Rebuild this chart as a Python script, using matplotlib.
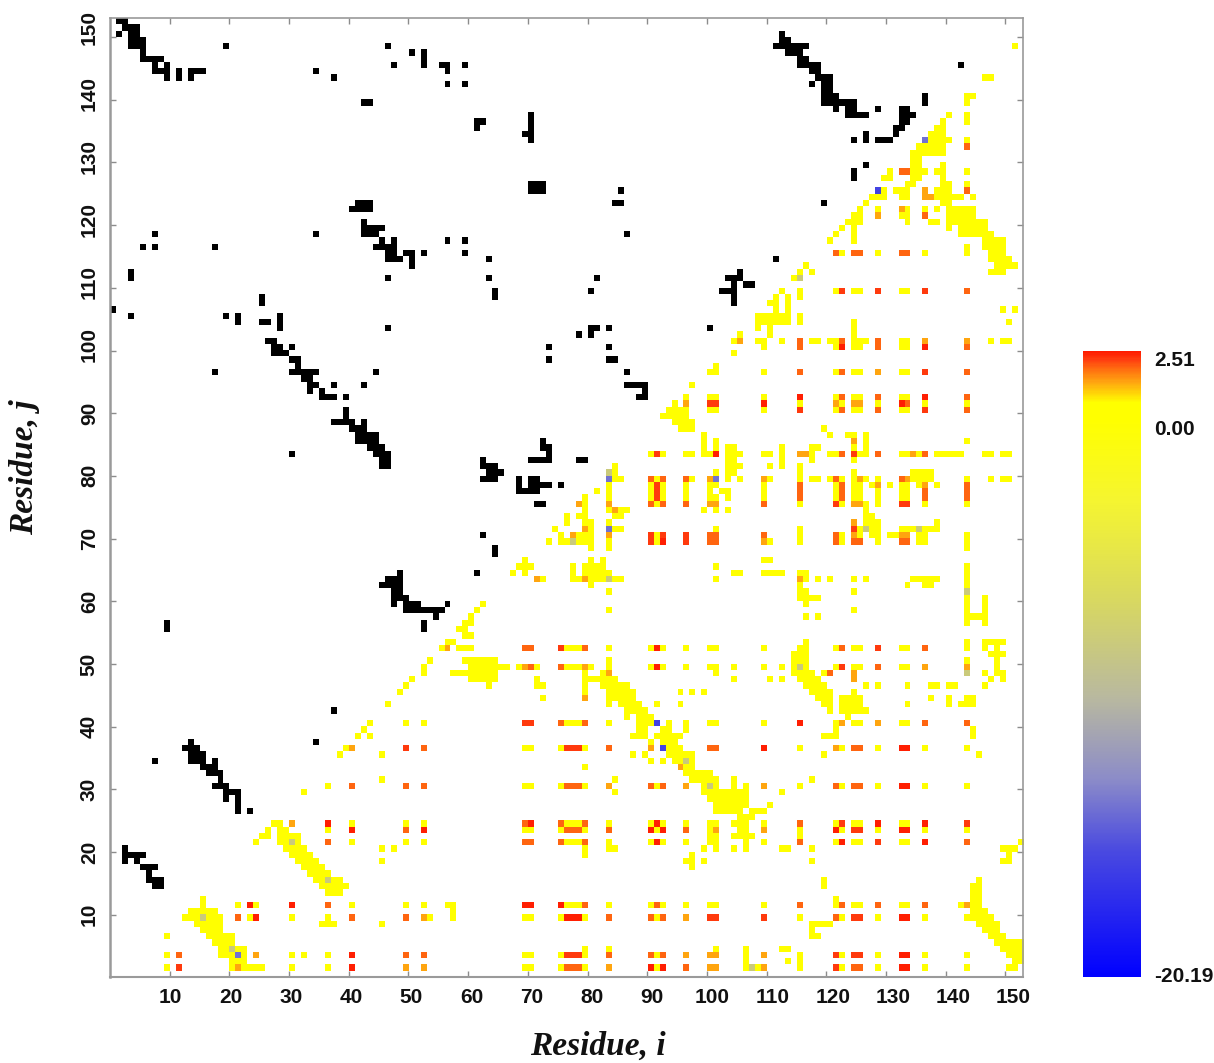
import re
import numpy as np
import matplotlib
matplotlib.use("Agg")
import matplotlib.pyplot as plt
from matplotlib.colors import LinearSegmentedColormap, Normalize, ListedColormap
from matplotlib.cm import ScalarMappable
from matplotlib.transforms import ScaledTranslation

N_RES = 153
VMIN, VMAX = -20.19, 2.51
x_ticks = list(range(10, 151, 10))
y_ticks = list(range(10, 151, 10))
cbar_ticks = [VMIN, 0.0, VMAX]
cbar_labels = ["-20.19", "0.00", "2.51"]

# energy level per letter suffix: none=yellow
level_values = {"": 0.2, "a": 1.4, "o": 1.9, "r": 2.2, "R": 2.45,
                "b": -16.0, "p": -14.0, "g": -8.0}

# Native contacts, row j -> residues i
contacts_upper = {
    153: "2-3", 152: "3-5", 151: "2 4-5 113", 150: "4-6 113-114", 149: "4-6 20 47 112-117",
    148: "6 51 53 114-116", 147: "6-9 53 116-117", 146: "8 10 48 53 56-57 60 116-119 143",
    145: "8-10 12 14-16 35 57 118-119", 144: "10 12 14 38 119-121", 143: "57 60 118 120-121",
    142: "120-121", 141: "120-122 137", 140: "43-44 120-125 137", 139: "122 124-125 129 133-134",
    138: "71 124-127 133-135", 137: "62-63 71 133-134", 136: "62 71 132-133", 135: "70-71 127 132",
    134: "71 125 127 129-131", 130: "127", 129: "125", 128: "125", 127: "71-73", 126: "71-73 86",
    124: "42-44 85-86 120", 123: "41-44", 121: "43", 120: "43-46", 119: "8 35 43-45 87",
    118: "46 48 57 60", 117: "6 8 18 45-48", 116: "47-48 50-51 53 60", 115: "47-49 51 64 112",
    114: "51", 113: "4 106", 112: "4 47 64 82 104-106", 111: "105 107-108", 110: "65 81 103-105",
    109: "26 65 105", 108: "26 105", 107: "1", 106: "4 20 22 29", 105: "22 26-27 29",
    104: "29 47 81-82 84 101",
}
contacts_lower = {
    103: "79 81", 102: "27-28", 101: "28-29 31 74 84", 100: "28-30", 99: "31-32 74 84-85", 98: "32",
    97: "18 31-35 45 87", 96: "33-34", 95: "34-35 38 43 87-90", 94: "34 36 90", 93: "36-38 40 89-90",
    91: "40", 90: "40", 89: "38-41 43", 88: "41-43", 87: "42-45", 86: "42-45 73", 85: "44-46 73-74",
    84: "31 45-47 74", 83: "46-47 63 71-74 79-80", 82: "46-47 63-65", 81: "64-66", 80: "63-65 69 71-72",
    79: "69 71-74 76", 78: "69-72", 76: "72-73", 71: "63", 69: "65", 68: "65", 65: "49 62", 64: "47-49",
    63: "46-49", 62: "48-49", 61: "48-50", 60: "48 50-52 57", 59: "50-56", 58: "55", 57: "10 53",
    56: "10 53", 43: "38", 38: "14 35", 37: "13-15", 36: "14-16", 35: "8 14-16 18", 34: "16-18",
    33: "17-19", 32: "19", 31: "18-20", 30: "20-22", 29: "20 22", 28: "22", 27: "22 24", 21: "3",
    20: "3-6", 19: "3 5", 18: "6-8", 17: "7", 16: "7-9", 15: "8-9",
}

# Interaction energies, row j -> residues i with level suffix
energy_high = {
    149: "152", 144: "147-148", 141: "144-145", 140: "144", 138: "141 144", 137: "140 144",
    136: "139-140", 135: "138-140", 134: "137p 138-141 144", 133: "136-140 144o", 132: "135-140",
    131: "135-136", 130: "135-136 140", 129: "131 133o 134o 135-136 137 139-140 144",
    128: "130-131 135-136 140", 127: "134-135 140-141 144", 126: "129b 130 132-134 137a 139-141 144o",
    125: "128-130 133-134 137a 138a 139-143 145", 124: "127 140-141",
    123: "126 129 133a 134 137 139 141-145", 122: "125-126 129a 133 134 137o 141-145",
    121: "124-126 134 138-139 141-147", 120: "123 125 141 143-147", 119: "122 125 143-148",
    118: "121 125 147-150", 117: "144 147-150",
    116: "122o 123 125o 126o 129 133o 134o 137 144 148-150", 115: "148-151", 114: "117 149-152",
    113: "116 118 148-150", 112: "115 116g",
    110: "113 116 122 123r 125-126 129r 133-134 137r 144o", 109: "112 114 116", 108: "111-112 114",
    107: "112 114 150 152", 106: "109-114 116", 105: "109-114 116 125 151", 104: "109 111 125",
    103: "106 111 125",
}
energy_mid = {
    102: "105 106a 109-110 113 116o 118-119 121-122 123o 125-127 129o 133-134 137a 144a 148 150-151",
    101: "110 116o 122 123R 125-126 129o 133-134 137R 144o", 100: "105", 98: "102",
    97: "101-102 110 116o 122 123o 125-126 129a 133-134 137r 144o", 95: "98",
    93: "97 101-102 110 116R 122 123o 125-126 129o 133-134 137R 144o",
    92: "95 97a 101r 102r 110R 116 122a 123 125a 126a 129 133R 134o 137 144",
    91: "94-97 101-102 110 116r 122 123o 125-126 129o 133-134 137r 144o", 90: "93-97", 89: "95-98",
    88: "96-98 120", 87: "100 121 124-125 127", 86: "100 102 125a 127 144",
    85: "100 102 104-105 113 118-119 125 127",
    84: "91 92r 93 97-98 100-101 102R 104-106 110-111 113 116a 117a 118 121-122 123o 125r 126-127 129o 133-134 135a 136 137o 139-143 147-148 150-151",
    83: "104-105 113 118 125", 82: "85 104-106 111 113 116", 81: "84g 85 102 104-105 116 125 135-138",
    80: "84p 85-86 91o 92 93o 97o 98 101a 102p 104 106 110a 111 116 118-119 121 122o 123 125 126a 127 129 133o 134a 135-138 144 148 150-151",
    79: "84 91 92r 93 97 101-102 110 116o 122 123o 125-126 128 129a 131 133-134 136 137a 139 144o",
    78: "82 84 91 92r 93 97 101 103-104 110 116o 122 123o 125-126 129 133-134 137o 144o",
    77: "80 84 91 92r 93 97 101-102 104 110 116o 122 123o 125-126 129 133-134 137o 144o",
    76: "79a 80 84a 91o 92 93o 97o 101a 102a 110o 116 122r 123 125a 126a 127 129 133r 134r 137 144",
    75: "80 84 85a 86-87 100 102 104 127", 74: "77 79-80 85-86 127-128", 73: "77 80-81 84 125a 127-129 139",
    72: "75 80a 81 84p 85-86 102 116 125r 126 127g 128-129 133-135 136g 137-139",
    71: "76 78a 79-81 84a 91r 92 93r 97r 101o 102o 110o 116 122o 123 125a 126 128-129 131-132 133a 134a 136-137 144",
    70: "74 76-77 78g 79-81 84 91r 92 93R 97r 101o 102o 110a 111 116 122o 123 125o 126o 129 133o 134o 136-137 144",
    69: "81 84 144", 67: "70 81 83 110-111", 66: "69-71 78 80-83 102 144",
    65: "68 70 78 80-84 105-106 110-113 116-117 144",
    64: "72a 73 78-79 80a 81-83 84g 85-86 102 116a 117 119 121 125 127 135-139 144",
    63: "81 116 134 137-138 144", 62: "84 116-117 125 144g", 61: "116-119 144 147", 60: "63 117 144 147",
    59: "62 84 125 144 147", 58: "61 117 119 144-147", 57: "60-61 144 147", 56: "59-60", 55: "60-61",
    54: "57-58 117 144 147-150",
    53: "56 57a 59-61 70o 71o 76r 77-79 80o 84 91 92R 93 97 101-102 110 116-117 122 123o 125-126 129r 133-134 137o 144 147 149",
}
energy_low = {
    52: "115-117 148-150", 51: "54 60-65 84 115-117 144 149",
    50: "53 61-67 69 70a 71o 72 76o 77-79 80a 81 84 91 92R 93 97 101-102 105 110 113 115 116g 117 122 123r 125-126 129o 133-134 137a 144a 149",
    49: "53 58-65 80 83 84a 102 115-118 120 121o 125a 144g 147 149-150",
    48: "51 61-65 72 80-85 105 111 113 116-119 125a 148 150",
    47: "50 64 72-73 80 83-87 117-120 127 129 134 138-139 141-142 147",
    46: "49 80 84-88 96 98 100 118-121 125", 45: "73 80a 84-88 119-121 123-126 138 141 144-145",
    44: "47 84 86-89 92 96 120-121 123-126 134 141 143-145", 43: "87-90 121 123-127", 42: "87 89-91 124",
    41: "44 50 53 70r 71r 76o 77-79 80o 84 89-91 92b 94 97 101-102 110 116R 122 123a 125-126 129a 133-134 137o 144o",
    40: "43 89-90 93-94 97 122 145", 39: "42 44 88-90 92-96 120-122 145", 38: "91 93-95",
    37: "40 41a 50r 53o 70-71 76 77r 78r 79r 80 84o 91a 93b 94-96 101o 102o 110R 116 122a 123 125o 126o 129 133R 134R 137 144",
    36: "39 46 88 90 94-98 120 146", 35: "91 93 95-96 97g 98", 34: "80 96a 97-98", 33: "97-101",
    32: "46 85 98-102 105 118",
    31: "37 41o 50o 53o 70-71 76 77o 78o 79o 80 84a 91o 92 93o 97a 100 101g 102 105 107 110a 116 122o 123 125o 126o 129 133R 134R 137 144",
    30: "33 85 100-107 113", 29: "101-107", 28: "102-107 111", 27: "102-106 108-110", 26: "106-108",
    25: "28-29 31a 37R 41 50 53 70o 71R 76o 77-79 80o 84 91 92R 93 97 101-102 105-107 110 116o 122 123r 125-126 129R 133-134 137R 144r",
    24: "27 29-30 37 41R 50o 53R 70-71 76 77o 78o 79o 80 84o 91R 92 93R 97o 101 102a 106-107 110a 116 122R 123 125r 126r 129 133R 134R 137 144",
    23: "26-27 29-32 101-102 105-108 116",
    22: "25 29-30 31g 32 37o 41 50 53 70o 71o 76o 77-79 80o 84 91 92R 93 97 101-102 107 110 116o 122 123R 125-126 129r 133-134 137R 144o 153",
    21: "30-33 46 48 80 84-85 100 102 105 107 113-114 118 150-152", 20: "31-34 80 98 151",
    19: "32-35 46 97-98 100 118 150-151", 18: "33-36 98", 17: "34-37", 16: "35-36 37g 38-39 120 146",
    15: "36-40 120 145-146", 14: "37-39 145-146", 13: "16 122 145-146",
    12: "16 22 24R 25 31R 37o 41 50 53 57-58 70R 71R 76R 77-79 80o 84 91 92o 93 97 101-102 110 116o 122 123o 125-126 129o 133-134 137o 143 144a 145-146",
    11: "14-18 58 145-147",
    10: "13-15 16g 17-19 22o 24 25R 31 37 41o 50o 53a 54 58 70-71 76 77R 78R 79R 80 84o 91o 92 93o 97a 101r 102r 110r 116 122o 123 125r 126r 129 133R 134R 137 144-148",
    9: "15-19 36-38 46 118-121 146-149", 8: "16-19 118 147-149", 7: "10 17-21 118-119 148-150",
    6: "18-21 149-153", 5: "19-20 21g 22-23 80 84 102 107 113-114 150-153",
    4: "10 12o 19-21 22p 23 25a 31 33 37 41R 50o 53o 70-71 76 77r 78r 79r 80 84o 91o 92 93o 97a 101a 102a 107 110a 116 122r 123 125r 126r 129 133R 134R 137 144 151-153",
    3: "21-23 107 114 116 152-153",
    2: "10 12r 21 22a 23-26 31 37 41R 50a 53a 70-71 76 77o 78o 79o 80 84a 91R 92 93R 97o 101a 102a 107 108g 109 110a 116 122r 123 125o 126o 129 133R 134R 137 144 151-152",
}

TOKEN = re.compile(r"(\d+)(?:-(\d+))?([a-zA-Z]?)")


def fill(grid, rows, value_of):
    for j, spec in rows.items():
        for a, b, lev in TOKEN.findall(spec):
            for i in range(int(a), int(b or a) + 1):
                grid[j - 1, i - 1] = value_of(lev)


energy = np.full((N_RES, N_RES), np.nan)
for part in (energy_high, energy_mid, energy_low):
    fill(energy, part, lambda lev: level_values[lev])
native = np.full((N_RES, N_RES), np.nan)
for part in (contacts_upper, contacts_lower):
    fill(native, part, lambda lev: 1.0)


def pos(v):
    return (v - VMIN) / (VMAX - VMIN)


cmap = LinearSegmentedColormap.from_list("energy", [
    (pos(-20.19), "#0000ff"), (pos(-15.6), "#4a4ae0"), (pos(-13.0), "#8c8cc8"),
    (pos(-10.1), "#b8b8a0"), (pos(-6.5), "#d8d860"), (pos(-2.9), "#f5f530"),
    (pos(0.0), "#ffff00"), (pos(0.65), "#ffff00"), (pos(1.4), "#ffa510"),
    (pos(1.9), "#ff6a10"), (pos(2.2), "#ff4010"), (pos(2.51), "#ff1a00")], N=512)
norm = Normalize(VMIN, VMAX)

W, H = 1214, 1063
fig = plt.figure(figsize=(W / 100, H / 100), dpi=100)
ax = fig.add_axes([110 / W, 1 - 977.3 / H, 913.3 / W, 959 / H])
extent = [0, N_RES, 0, N_RES]
ax.imshow(energy, origin="lower", extent=extent, cmap=cmap, norm=norm,
          interpolation="nearest", aspect="auto")
ax.imshow(native, origin="lower", extent=extent, cmap=ListedColormap(["black"]),
          interpolation="nearest", aspect="auto")
ax.set_xlim(0, N_RES)
ax.set_ylim(0, N_RES)

label_font = dict(family="Liberation Sans", fontweight="bold", fontsize=15, color="#111111")
ax.set_xticks(x_ticks)
ax.set_yticks(y_ticks)
ax.set_xticklabels([str(v) for v in x_ticks], **label_font)
ax.set_yticklabels([str(v) for v in y_ticks], rotation=90, va="center", **label_font)
ax.tick_params(axis="both", which="major", direction="in", length=4, width=1, color="#8c8c8c",
               top=True, right=True)
ax.tick_params(axis="x", pad=8)
ax.tick_params(axis="y", pad=8)
for s in ax.spines.values():
    s.set_color("#9a9a9a")
    s.set_linewidth(1.2)
ax.spines["left"].set_linewidth(1.8)
ax.spines["bottom"].set_linewidth(1.5)

for v, lab in zip(x_ticks, ax.get_xticklabels()):
    dx = (1 + (v - 10) * 0.05) / 100
    lab.set_transform(lab.get_transform() + ScaledTranslation(dx, 0, fig.dpi_scale_trans))
for v, lab in zip(y_ticks, ax.get_yticklabels()):
    dy = (10 if v == 150 else 6 if v >= 100 else 0) / 100
    lab.set_transform(lab.get_transform() + ScaledTranslation(0, dy, fig.dpi_scale_trans))

serif = dict(family="Liberation Serif", fontweight="bold", fontstyle="italic", fontsize=24, color="#111111")
fig.text(598 / W, 1 - 1046 / H, "Residue, i", ha="center", va="center", **serif)
fig.text(25 / W, 1 - 467 / H, "Residue, j", ha="center", va="center", rotation=90, **serif)

cax = fig.add_axes([1083 / W, 1 - 977 / H, 58 / W, 626 / H])
cb = fig.colorbar(ScalarMappable(norm=norm, cmap=cmap), cax=cax, ticks=cbar_ticks)
cb.outline.set_visible(False)
cax.tick_params(length=0, pad=9.5)
cax.set_yticklabels(cbar_labels, **label_font)
for lab, va in zip(cax.get_yticklabels(), ["center", "top", "top"]):
    lab.set_verticalalignment(va)

fig.savefig("out.png", dpi=100, facecolor="white")
